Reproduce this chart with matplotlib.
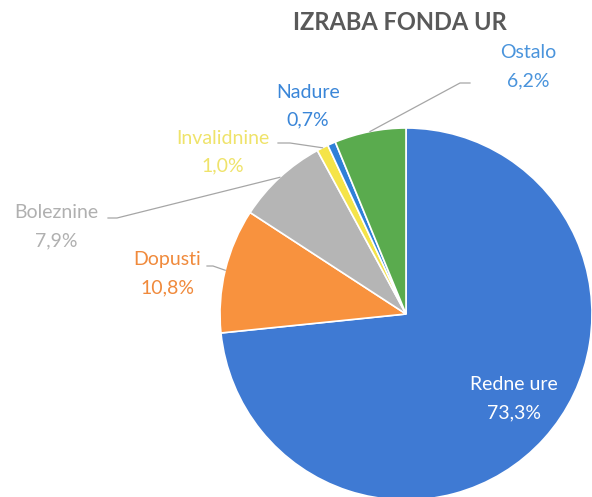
import numpy as np
import matplotlib
matplotlib.use("Agg")
from matplotlib import pyplot as plt

# data
labels = ["Redne ure", "Dopusti", "Boleznine", "Invalidnine", "Nadure", "Ostalo"]
values = [73.3, 10.8, 7.9, 1.0, 0.7, 6.2]
pct_text = ["73,3%", "10,8%", "7,9%", "1,0%", "0,7%", "6,2%"]
slice_colors = ["#3f7ad3", "#f8923e", "#b5b5b5", "#f5e449", "#2f80d8", "#5aab4e"]
text_colors = ["white", "#f08a3c", "#b0b0b0", "#efe36a", "#3a86d8", "#4a94dc"]

W, H = 592, 497
plt.rcParams['font.family'] = ['Lato', 'DejaVu Sans']

fig = plt.figure(figsize=(W / 100, H / 100), dpi=100)
ax = fig.add_axes([0, 0, 1, 1])

cx, cy, r = 406, H - 314, 186
wedges, _ = ax.pie(values, colors=slice_colors, startangle=90, counterclock=False,
                   center=(cx, cy), radius=r,
                   wedgeprops=dict(edgecolor="white", linewidth=1.2))
ax.set_xlim(0, W)
ax.set_ylim(0, H)
ax.set_aspect("equal")
ax.axis("off")

ax.text(400, H - 23, "IZRABA FONDA UR", ha="center", va="center",
        fontsize=17, fontweight="bold", color="#595959")

# label positions in image pixels (x, y of the name line), and leader stubs
label_pos = [(514, 385), (167, 260), (56, 213), (223, 138), (308, 92), (528, 53)]
stubs = [None, [(207, 266), (213, 266)], [(108, 218), (117, 218)],
         [(278, 143), (290, 143)], None, [(470, 83), (460, 83)]]

for w, name, pct, col, (lx, ly), stub in zip(wedges, labels, pct_text, text_colors, label_pos, stubs):
    ax.text(lx, H - ly, name, ha="center", va="center", fontsize=14, color=col)
    ax.text(lx, H - ly - 28, pct, ha="center", va="center", fontsize=14, color=col)
    if stub is not None:
        ang = np.deg2rad((w.theta1 + w.theta2) / 2)
        ex, ey = cx + r * np.cos(ang), cy + r * np.sin(ang)
        xs = [p[0] for p in stub] + [ex]
        ys = [H - p[1] for p in stub] + [ey]
        ax.plot(xs, ys, color="#a6a6a6", linewidth=0.9)

fig.savefig("out.png", dpi=100)
